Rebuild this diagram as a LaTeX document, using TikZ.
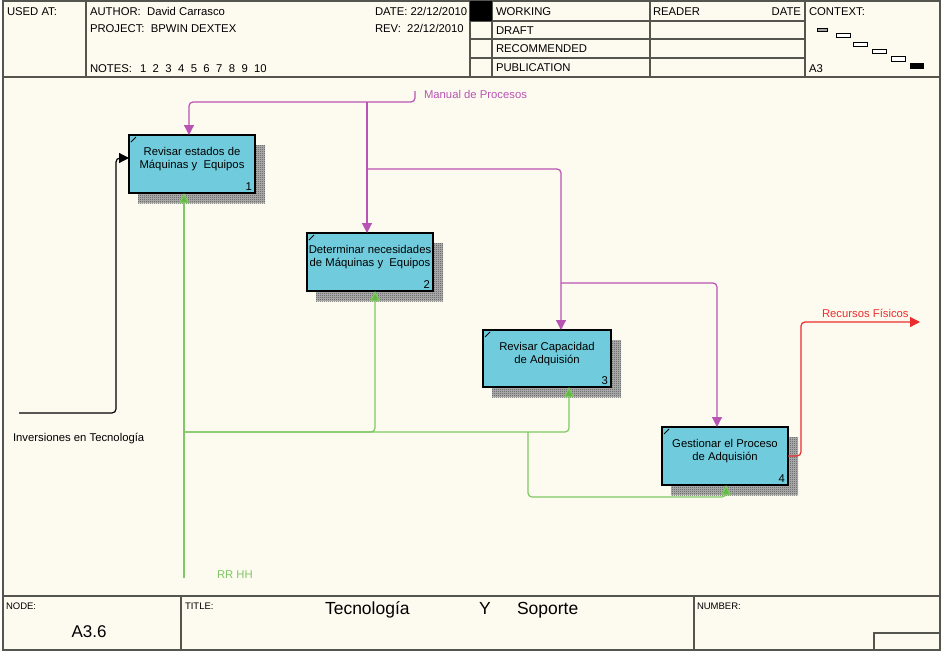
\documentclass[tikz,border=0pt]{standalone}
\usepackage{fontspec}
\setmainfont{Liberation Sans}
\usetikzlibrary{arrows.meta,patterns.meta}
\pgfdeclarelayer{bg}
\pgfsetlayers{bg,main}
\definecolor{paper}{RGB}{253,250,240}
\definecolor{rule}{RGB}{85,85,80}
\definecolor{actfill}{RGB}{112,204,220}
\definecolor{ctrl}{RGB}{184,84,180}
\definecolor{mech}{RGB}{126,200,100}
\definecolor{mechtip}{RGB}{100,184,70}
\definecolor{outp}{RGB}{235,45,45}

% fine checker used for the activity shadows
\tikzdeclarepattern{
  name=dither, type=uncolored,
  bounding box={(0pt,0pt) and (2pt,2pt)},
  tile size={(2pt,2pt)},
  code={\fill (0pt,0pt) rectangle (1pt,1pt); \fill (1pt,1pt) rectangle (2pt,2pt);}
}

\begin{document}
\begin{tikzpicture}[x=1pt,y=-1pt,
  every node/.style={inner sep=0pt, outer sep=0pt},
  hdr/.style={font=\fontsize{11.3}{13}\selectfont, anchor=base west},
  small/.style={font=\fontsize{9.5}{11}\selectfont, anchor=base west},
  frame/.style={draw=rule, line width=1.3pt},
  activity/.style={draw=black, line width=1.1pt, fill=actfill,
    minimum width=126pt, minimum height=58pt},
  acttext/.style={font=\fontsize{11.3}{13}\selectfont, align=center, anchor=north},
  actnum/.style={font=\fontsize{11.3}{13}\selectfont, anchor=base east},
  lbl/.style={font=\fontsize{11.3}{13}\selectfont, anchor=west},
  tip/.style={-{Triangle[length=10pt,width=10pt,sharp]}},
  mtip/.style={-{Triangle[length=10pt,width=10pt,sharp,fill=mechtip]}},
  link/.style={line width=1.2pt, rounded corners=4pt},
  ctrlline/.style={link, draw=ctrl},
  mechline/.style={link, draw=mech},
  inline/.style={link, draw=black},
  outline/.style={link, draw=outp},
  ctxbox/.style={draw=black, line width=0.8pt},
]
\useasboundingbox (0,0) rectangle (943,656);

% sheet
\begin{pgfonlayer}{bg}
  \fill[white] (0,0) rectangle (943,656);
  \fill[paper] (3,1) rectangle (940,650);
\end{pgfonlayer}

% ---------- header ----------
\draw[frame] (3,1) rectangle (940,650);
\draw[frame] (3,77) -- (940,77);
\draw[frame] (86,1) -- (86,77);
\draw[frame] (470,1) -- (470,77);
\draw[frame] (492,1) -- (492,77);
\draw[frame] (650,1) -- (650,77);
\draw[frame] (805,1) -- (805,77);
\draw[frame] (470,21) -- (805,21);
\draw[frame] (470,39) -- (805,39);
\draw[frame] (470,58) -- (805,58);
\fill[black] (470,1) rectangle (492,21);

\node[hdr] (usedat) at (7,15) {USED AT:};
\node[hdr] (author) at (90,15) {AUTHOR:\ \ David Carrasco};
\node[hdr] (project) at (90,32) {PROJECT:\ \ BPWIN DEXTEX};
\node[hdr] (notes) at (90,72) {NOTES:\hspace{8pt}1\hspace{6.4pt}2\hspace{6.4pt}3\hspace{6.4pt}4\hspace{6.4pt}5\hspace{6.4pt}6\hspace{6.4pt}7\hspace{6.4pt}8\hspace{6.4pt}9\hspace{6.4pt}10};
\node[hdr] (date) at (375,15) {DATE: 22/12/2010};
\node[hdr] (rev) at (375,32) {REV:\ \ 22/12/2010};
\node[hdr] (working) at (496,15) {WORKING};
\node[hdr] (draft) at (496,34) {DRAFT};
\node[hdr] (recom) at (496,52) {RECOMMENDED};
\node[hdr] (publ) at (496,71) {PUBLICATION};
\node[hdr] (reader) at (653,15) {READER};
\node[hdr, anchor=base east] (rdate) at (801,15) {DATE};
\node[hdr] (context) at (809,15) {CONTEXT:};
\node[hdr] (ctxnode) at (809,72) {A3};

% context map
\filldraw[ctxbox, fill=gray!70] (817,28) rectangle (827,31);
\filldraw[ctxbox, fill=white] (836,33) rectangle (850,37);
\filldraw[ctxbox, fill=white] (853,42) rectangle (867,46);
\filldraw[ctxbox, fill=white] (872,49) rectangle (886,53);
\filldraw[ctxbox, fill=white] (891,56) rectangle (905,61);
\filldraw[ctxbox, fill=black] (910,63) rectangle (923,68);

% ---------- footer ----------
\draw[frame] (3,596) -- (940,596);
\draw[frame] (181,596) -- (181,650);
\draw[frame] (694,596) -- (694,650);
\draw[frame] (874,633) rectangle (940,650);
\node[small] (nodelbl) at (6,609) {NODE:};
\node[small] (titlelbl) at (185,609) {TITLE:};
\node[small] (numlbl) at (697,609) {NUMBER:};
\node[font=\fontsize{17}{20}\selectfont] (nodeid) at (89,632) {A3.6};
\node[font=\fontsize{17.5}{20}\selectfont, anchor=base west] (t1) at (325,614) {Tecnología};
\node[font=\fontsize{17.5}{20}\selectfont, anchor=base west] (t2) at (479,614) {Y};
\node[font=\fontsize{17.5}{20}\selectfont, anchor=base west] (t3) at (517,614) {Soporte};

% ---------- activities ----------
\node[activity] (b1) at (192,164) {};
\node[activity] (b2) at (370,262) {};
\node[activity, minimum width=128pt, minimum height=57pt] (b3) at (547,358.5) {};
\node[activity] (b4) at (725,456) {};

\foreach \b/\n/\t in {b1/1/{Revisar estados de\\Máquinas y\ \ Equipos},
                      b2/2/{Determinar necesidades\\de Máquinas y\ \ Equipos},
                      b3/3/{Revisar Capacidad\\de Adquisión},
                      b4/4/{Gestionar el Proceso\\de Adquisión}}{
  \node[acttext] (\b txt) at ([shift={(0,12)}]\b.north) {\t};
  \node[actnum] (\b num) at ([shift={(-3,-3)}]\b.south east) {\n};
  \draw[line width=0.8pt] ([shift={(2,7)}]\b.north west) -- ([shift={(7,2)}]\b.north west);
  \begin{pgfonlayer}{bg}
    \fill[gray!55]
      ([shift={(9,10)}]\b.north west) rectangle ([shift={(10,10)}]\b.south east);
    \fill[pattern=dither, pattern color=black!85]
      ([shift={(9,10)}]\b.north west) rectangle ([shift={(10,10)}]\b.south east);
  \end{pgfonlayer}
}

% ---------- control: Manual de Procesos ----------
\node[lbl, text=ctrl] (manual) at (424,94) {Manual de Procesos};
\coordinate (m0) at (415,91);
\coordinate (mj1) at (367,102);
\coordinate (mb1) at (189,102);
\coordinate (mj2) at (367,169);
\coordinate (mb3) at (561,169);
\coordinate (mj3) at (561,283);
\coordinate (mb4) at (717,283);
\draw[ctrlline, tip] (m0) -- (m0 |- mj1) -- (mb1) -- (mb1 |- b1.north);
\draw[ctrlline, tip] (mj1) -- (mj1 |- b2.north);
\draw[ctrlline, tip] (mj2) -- (mb3) -- (mb3 |- b3.north);
\draw[ctrlline, tip] (mj3) -- (mb4) -- (mb4 |- b4.north);

% ---------- mechanism: RR HH ----------
\node[lbl, text=mech] (rrhh) at (217,575) {RR HH};
\coordinate (rr) at (184,578);
\coordinate (gj) at (184,432);
\coordinate (gb2) at (375,432);
\coordinate (gb3) at (569,432);
\coordinate (gj4) at (528,432);
\coordinate (gc4) at (528,497);
\coordinate (gb4) at (726,497);
\draw[mechline, mtip] (rr) -- (rr |- b1.south);
\draw[mechline, mtip] (gj) -- (gb3) -- (gb3 |- b3.south);
\draw[mechline, mtip] (gj) -- (gb2) -- (gb2 |- b2.south);
\draw[mechline, mtip] (gj4) -- (gc4) -- (gb4) -- (gb4 |- b4.south);

% ---------- input: Inversiones en Tecnología ----------
\node[lbl] (inver) at (13,439) {Inversiones en Tecnología};
\coordinate (inv) at (19,413);
\coordinate (ic) at (116,413);
\coordinate (ib) at (116,158);
\draw[inline, tip] (inv) -- (ic) -- (ib) -- (ib -| b1.west);

% ---------- output: Recursos Físicos ----------
\node[lbl, text=outp] (recursos) at (822,313) {Recursos Físicos};
\coordinate (ob) at (801,322);
\coordinate (rf) at (920,322);
\draw[outline, tip] (b4.east) -- (b4.east -| ob) -- (ob) -- (rf);

\end{tikzpicture}
\end{document}
